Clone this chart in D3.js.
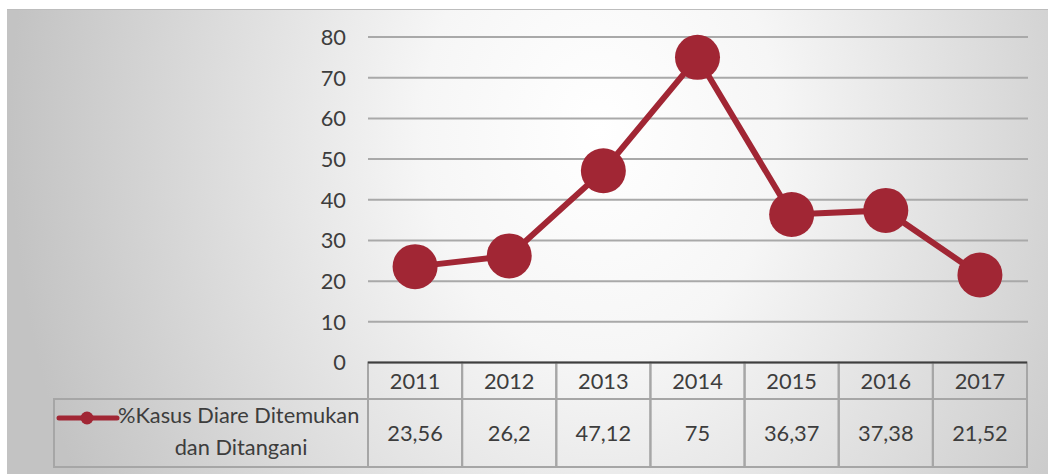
<!DOCTYPE html>
<html>
<head>
<meta charset="utf-8">
<script src="https://cdn.jsdelivr.net/npm/d3@7"></script>
<style>
  html, body { margin: 0; padding: 0; background: #fff; }
  svg text { font-family: Lato, "Open Sans", sans-serif; fill: #3d3d3d; }
</style>
</head>
<body>
<div id="chart"></div>
<script>
const years = ["2011", "2012", "2013", "2014", "2015", "2016", "2017"];
const values = [23.56, 26.2, 47.12, 75, 36.37, 37.38, 21.52];
const valueLabels = ["23,56", "26,2", "47,12", "75", "36,37", "37,38", "21,52"];
const yTicks = [0, 10, 20, 30, 40, 50, 60, 70, 80];
const seriesName = ["%Kasus Diare Ditemukan", "dan Ditangani"];

const width = 1048, height = 474;
const red = "#a12634";
const fs = 21.8;

const svg = d3.select("#chart").append("svg")
  .attr("width", width)
  .attr("height", height);

// background gradient
const defs = svg.append("defs");
const grad = defs.append("radialGradient")
  .attr("id", "bg")
  .attr("gradientUnits", "userSpaceOnUse")
  .attr("cx", 0).attr("cy", 0).attr("r", 1)
  .attr("gradientTransform", "translate(600,130) scale(590,760)");
grad.append("stop").attr("offset", 0).attr("stop-color", "#ffffff");
grad.append("stop").attr("offset", 0.3).attr("stop-color", "#f6f6f6");
grad.append("stop").attr("offset", 1).attr("stop-color", "#c3c3c3");

svg.append("rect")
  .attr("x", 7).attr("y", 9)
  .attr("width", width - 7).attr("height", height - 9)
  .attr("fill", "url(#bg)");
svg.append("line")
  .attr("x1", 7).attr("x2", width).attr("y1", 9.5).attr("y2", 9.5)
  .attr("stroke", "#bdbdbd").attr("stroke-width", 1);

const x = d3.scaleBand().domain(years).range([368, 1027]);
const y = d3.scaleLinear().domain([0, 80]).range([362.5, 37]);

// grid
svg.append("g")
  .selectAll("line")
  .data(yTicks.filter(d => d > 0))
  .join("line")
  .attr("x1", 368).attr("x2", 1028)
  .attr("y1", d => y(d)).attr("y2", d => y(d))
  .attr("stroke", "#a9a9a9").attr("stroke-width", 2);

// y labels
svg.append("g")
  .selectAll("text")
  .data(yTicks)
  .join("text")
  .attr("x", 346)
  .attr("y", d => y(d))
  .attr("dy", "0.36em")
  .attr("text-anchor", "end")
  .attr("font-size", fs)
  .text(d => d);

// table
const rowTop = y(0), rowMid = 399, rowBot = 467;
const tbl = svg.append("g").attr("stroke", "#a6a6a6").attr("stroke-width", 2).attr("fill", "none");
years.forEach((yr, i) => {
  tbl.append("rect")
    .attr("x", x(yr)).attr("y", rowTop)
    .attr("width", x.bandwidth()).attr("height", rowMid - rowTop);
  tbl.append("rect")
    .attr("x", x(yr)).attr("y", rowMid)
    .attr("width", x.bandwidth()).attr("height", rowBot - rowMid);
});
tbl.append("rect")
  .attr("x", 54).attr("y", rowMid)
  .attr("width", 368 - 54).attr("height", rowBot - rowMid);

// axis line
svg.append("line")
  .attr("x1", 368).attr("x2", 1027)
  .attr("y1", rowTop).attr("y2", rowTop)
  .attr("stroke", "#3f3f3f").attr("stroke-width", 2);

svg.append("g")
  .selectAll("text")
  .data(years)
  .join("text")
  .attr("x", d => x(d) + x.bandwidth() / 2)
  .attr("y", 381)
  .attr("dy", "0.36em")
  .attr("text-anchor", "middle")
  .attr("font-size", fs)
  .text(d => d);

svg.append("g")
  .selectAll("text")
  .data(valueLabels)
  .join("text")
  .attr("x", (d, i) => x(years[i]) + x.bandwidth() / 2)
  .attr("y", 433)
  .attr("dy", "0.36em")
  .attr("text-anchor", "middle")
  .attr("font-size", fs)
  .text(d => d);

// legend
svg.append("line")
  .attr("x1", 59).attr("x2", 117).attr("y1", 418).attr("y2", 418)
  .attr("stroke", red).attr("stroke-width", 5).attr("stroke-linecap", "round");
svg.append("circle")
  .attr("cx", 87).attr("cy", 418).attr("r", 6.5).attr("fill", red);
svg.append("text")
  .attr("x", 118).attr("y", 415).attr("dy", "0.36em")
  .attr("font-size", fs)
  .text(seriesName[0]);
svg.append("text")
  .attr("x", 241).attr("y", 447).attr("dy", "0.36em")
  .attr("text-anchor", "middle")
  .attr("font-size", fs)
  .text(seriesName[1]);

// series
const line = d3.line()
  .x((d, i) => x(years[i]) + x.bandwidth() / 2)
  .y(d => y(d));

svg.append("path")
  .datum(values)
  .attr("d", line)
  .attr("fill", "none")
  .attr("stroke", red)
  .attr("stroke-width", 6);

svg.append("g")
  .selectAll("circle")
  .data(values)
  .join("circle")
  .attr("cx", (d, i) => x(years[i]) + x.bandwidth() / 2)
  .attr("cy", d => y(d))
  .attr("r", 22.5)
  .attr("fill", red);
</script>
</body>
</html>
